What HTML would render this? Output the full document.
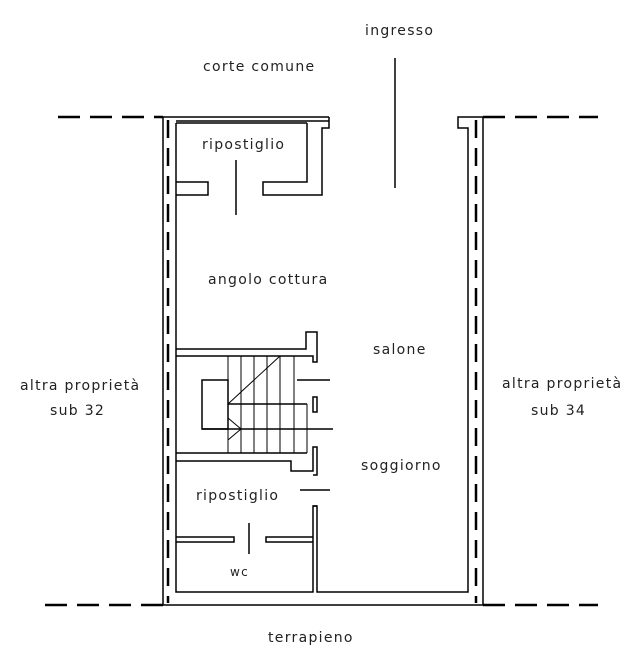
<!DOCTYPE html>
<html><head><style>
html,body{margin:0;padding:0;background:#fff;width:631px;height:663px;overflow:hidden}
svg{display:block}
text{font-family:"DejaVu Sans","Liberation Sans",sans-serif;font-size:14px;fill:#222;letter-spacing:1.3px}
</style></head><body>
<svg width="631" height="663" viewBox="0 0 631 663" xmlns="http://www.w3.org/2000/svg">
<g fill="none" stroke="#000" stroke-width="1.5">
<g stroke-width="2.5" stroke-dasharray="22,10">
<line x1="58" y1="117" x2="163" y2="117"/>
<line x1="483" y1="117" x2="598" y2="117"/>
<line x1="45" y1="605" x2="163" y2="605"/>
<line x1="483" y1="605" x2="598" y2="605"/>
<line x1="168" y1="120" x2="168" y2="603" stroke-dasharray="18,10"/>
<line x1="476" y1="120" x2="476" y2="603" stroke-dasharray="18,10"/>
</g>
<polyline points="163,117 163,605 483,605 483,117 458,117 458,128 468,128 468,592 317,592 317,506 313,506 313,592 176,592 176,123"/>
<line x1="163" y1="117" x2="329" y2="117"/>
<line x1="176" y1="121" x2="329" y2="121"/>
<line x1="176" y1="123" x2="307" y2="123"/>
<polyline points="329,117 329,128 322,128 322,195 263,195 263,182 307,182 307,123"/>
<polyline points="176,182 208,182 208,195 176,195"/>
<line x1="236" y1="160" x2="236" y2="215"/>
<line x1="395" y1="58" x2="395" y2="188"/>
<polyline points="176,349 306,349 306,332 317,332 317,362 313,362 313,356 176,356"/>
<line x1="297" y1="380" x2="330" y2="380"/>
<rect x="202" y="380" width="26" height="49"/>
<line x1="176" y1="453" x2="307" y2="453"/>
<line x1="228" y1="404" x2="307" y2="404"/>
<line x1="202" y1="429" x2="333" y2="429"/>
<g stroke-width="1">
<line x1="228" y1="356" x2="228" y2="453"/>
<line x1="241" y1="356" x2="241" y2="404"/><line x1="254" y1="356" x2="254" y2="404"/>
<line x1="267" y1="356" x2="267" y2="404"/><line x1="280" y1="356" x2="280" y2="404"/>
<line x1="294" y1="356" x2="294" y2="404"/>
<line x1="241" y1="404" x2="241" y2="453"/><line x1="254" y1="404" x2="254" y2="453"/>
<line x1="267" y1="404" x2="267" y2="453"/><line x1="280" y1="404" x2="280" y2="453"/>
<line x1="294" y1="404" x2="294" y2="453"/><line x1="307" y1="404" x2="307" y2="453"/>
<line x1="228" y1="404" x2="280" y2="356"/>
<polyline points="228,418 241,429 228,440"/>
</g>
<rect x="313" y="397" width="4" height="15"/>
<polyline points="176,461 291,461 291,471 313,471 313,447 317,447 317,475 313,475"/>
<line x1="300" y1="490" x2="330" y2="490"/>
<line x1="313" y1="506" x2="317" y2="506"/>
<polyline points="176,537 234,537 234,542 176,542"/>
<polyline points="313,537 266,537 266,542 313,542"/>
<line x1="249" y1="523" x2="249" y2="554"/>
</g>
<text x="365" y="35">ingresso</text>
<text x="203" y="71">corte comune</text>
<text x="202" y="149">ripostiglio</text>
<text x="208" y="284">angolo cottura</text>
<text x="373" y="354">salone</text>
<text x="20" y="390">altra proprietà</text>
<text x="50" y="415">sub 32</text>
<text x="502" y="388">altra proprietà</text>
<text x="531" y="415">sub 34</text>
<text x="361" y="470">soggiorno</text>
<text x="196" y="500">ripostiglio</text>
<text x="230" y="576" style="font-size:12px">wc</text>
<text x="268" y="642">terrapieno</text>
</svg>
</body></html>
